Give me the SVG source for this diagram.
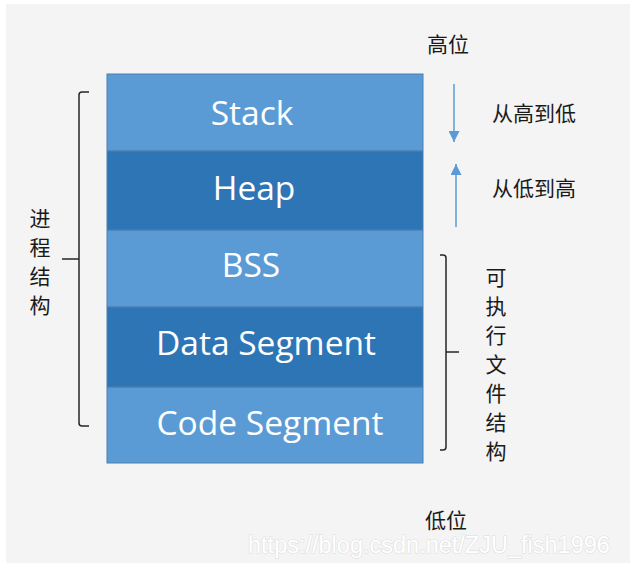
<svg xmlns="http://www.w3.org/2000/svg" width="630" height="563" viewBox="0 0 630 563">
<style>
.seg text{font-family:"Open Sans","Noto Sans",sans-serif;font-size:33.5px;fill:#ffffff;text-anchor:middle}
.lt{fill:#5b9bd5}
.dk{fill:#2e75b6}
.cjk{font-family:"Noto Sans CJK SC","Noto Sans",sans-serif;font-size:21px;fill:#1a1a1a}
.vt{text-anchor:middle}
.br{fill:none;stroke:#262626;stroke-width:1.5}
.arr{stroke:#5b9bd5;stroke-width:1.5;fill:none}
</style>
<defs>
<marker id="ah" viewBox="0 0 10 10" refX="10" refY="5" markerWidth="11" markerHeight="11" markerUnits="userSpaceOnUse" orient="auto">
<path d="M0,0 L10,5 L0,10 z" fill="#5b9bd5"/>
</marker>
</defs>
<rect x="0" y="0" width="630" height="563" fill="#ffffff"/>
<rect x="6" y="4" width="624" height="559" fill="#f4f4f4"/>

<g id="memory" class="seg">
<g id="stack"><rect class="lt" x="107" y="74" width="316" height="77"/><text x="252" y="125">Stack</text></g>
<g id="heap"><rect class="dk" x="107" y="151" width="316" height="79"/><text x="254" y="200">Heap</text></g>
<g id="bss"><rect class="lt" x="107" y="230" width="316" height="77"/><text x="251" y="277">BSS</text></g>
<g id="data"><rect class="dk" x="107" y="307" width="316" height="80"/><text x="266" y="355">Data Segment</text></g>
<g id="code"><rect class="lt" x="107" y="387" width="316" height="76"/><text x="270" y="435">Code Segment</text></g>
<rect x="107" y="74" width="316" height="389" fill="none" stroke="#4a7eb0" stroke-width="1"/>
<line x1="107" y1="151" x2="423" y2="151" stroke="#4a7eb0" stroke-width="1.5"/>
<line x1="107" y1="230" x2="423" y2="230" stroke="#4a7eb0" stroke-width="1.5"/>
<line x1="107" y1="307" x2="423" y2="307" stroke="#4a7eb0" stroke-width="1.5"/>
<line x1="107" y1="387" x2="423" y2="387" stroke="#4a7eb0" stroke-width="1.5"/>
</g>

<g id="connectors">
<line class="arr" x1="454" y1="84" x2="454" y2="142" marker-end="url(#ah)"/>
<line class="arr" x1="456" y1="227" x2="456" y2="164" marker-end="url(#ah)"/>
</g>

<g id="process-bracket">
<path class="br" d="M89,92 L82,92 Q79,92 79,95 L79,423 Q79,426 82,426 L89,426 M62,259 L79,259"/>
<text class="cjk vt" x="40" y="226">进</text>
<text class="cjk vt" x="40" y="255">程</text>
<text class="cjk vt" x="40" y="284">结</text>
<text class="cjk vt" x="40" y="313">构</text>
</g>

<g id="exe-bracket">
<path class="br" d="M440,255 L443,255 Q446,255 446,258 L446,447 Q446,450 443,450 L440,450 M446,352 L459,352"/>
<text class="cjk vt" x="496" y="285">可</text>
<text class="cjk vt" x="496" y="314">执</text>
<text class="cjk vt" x="496" y="343">行</text>
<text class="cjk vt" x="496" y="372">文</text>
<text class="cjk vt" x="496" y="401">件</text>
<text class="cjk vt" x="496" y="430">结</text>
<text class="cjk vt" x="496" y="459">构</text>
</g>

<g id="labels">
<text class="cjk" x="427" y="52" font-size="22">高位</text>
<text class="cjk" x="425" y="528" font-size="22">低位</text>
<text class="cjk" x="492" y="121" font-size="22">从高到低</text>
<text class="cjk" x="492" y="196" font-size="22">从低到高</text>
</g>

<text x="248" y="553" font-family="Liberation Sans, Arial, sans-serif" font-size="23.5" fill="#ffffff" stroke="#dedede" stroke-width="1.2" paint-order="stroke">https://blog.csdn.net/ZJU_fish1996</text>
</svg>
